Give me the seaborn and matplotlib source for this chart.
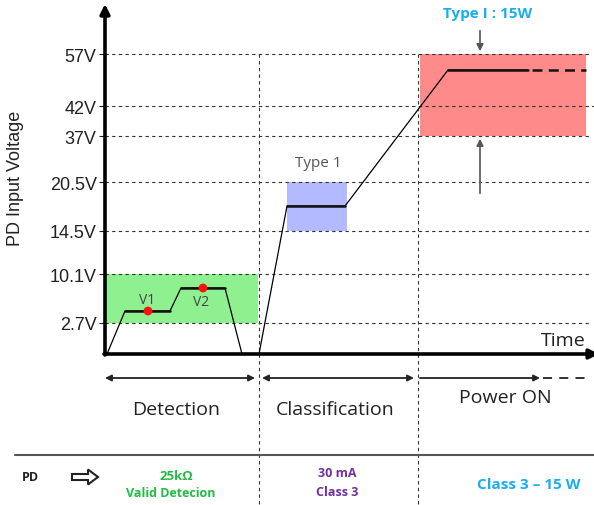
import numpy as np
import pandas as pd
import matplotlib
matplotlib.use('Agg')
import matplotlib.pyplot as plt
from matplotlib.patches import FancyArrow
import seaborn as sns

sns.set_style('white')
plt.rcParams['font.family'] = ['Liberation Sans', 'DejaVu Sans']

# schematic voltage levels (not to scale) and their labels
volt_labels = ['2.7V', '10.1V', '14.5V', '20.5V', '37V', '42V', '57V']
volt_levels = [31, 80, 123, 172, 218, 248, 300]

# PD voltage waveform over time (schematic units)
wave_t = [2, 20, 65, 76, 120, 137, 154, 182, 240, 343, 423]
wave_v = [0, 43, 43, 66, 66, 0, 0, 148, 148, 284, 284]
# the plateaus that are drawn heavier
flat_t = [[20, 65], [76, 120], [182, 240], [343, 423]]
flat_v = [[43, 43], [66, 66], [148, 148], [284, 284]]
tail_t = [427, 481]

# detection measuring points
pts = pd.DataFrame({'t': [43, 98], 'v': [43, 66], 'name': ['V1', 'V2']})

# phase boundaries in time
phase_names = ['Detection', 'Classification', 'Power ON']
phase_edges = [0, 154, 313, 485]

fig = plt.figure(figsize=(5.94, 5.06), dpi=100)
ax = fig.add_axes([105 / 594, 151 / 506, 489 / 594, 347 / 506])
ax.set_xlim(0, 489)
ax.set_ylim(0, 347)

# shaded voltage windows
ax.fill_between([0, 153], 31, 80, color='#8ef08e', lw=0, zorder=1)
ax.fill_between([182, 242], 123, 172, color='#b3baff', lw=0, zorder=1)
ax.fill_between([315, 481], 218, 300, color='#ff8a8a', lw=0, zorder=1)

# dashed level lines
for lv in volt_levels:
    xe = 489 if lv == 248 else 485
    ax.plot([0, xe], [lv, lv], color='#333333', lw=0.8, ls=(0, (3, 3)), zorder=2)

# dashed phase boundaries, running down into the table
for xb in phase_edges[1:3]:
    ax.plot([xb, xb], [300, -151], color='#333333', lw=0.8, ls=(0, (3, 3)),
            zorder=2, clip_on=False)

# waveform
sns.lineplot(x=wave_t, y=wave_v, color='black', lw=0.9, estimator=None,
             sort=False, ax=ax, zorder=4)
for ft, fv in zip(flat_t, flat_v):
    ax.plot(ft, fv, color='#111111', lw=1.8, zorder=4)
ax.plot(tail_t, [284, 284], color='#111111', lw=1.8, ls=(0, (4, 2.5)), zorder=4)

sns.scatterplot(data=pts, x='t', y='v', color='#ff1010', s=40, edgecolor='none',
                ax=ax, zorder=5)
ax.set_xlabel('')
ax.set_ylabel('')
ax.text(42, 54, 'V1', fontsize=10, color='#444444', ha='center', va='center',
        family='Open Sans')
ax.text(96, 52, 'V2', fontsize=10, color='#444444', ha='center', va='center',
        family='Open Sans')
ax.text(213, 184, 'Type 1', fontsize=11, color='#555555', ha='center', va='bottom',
        family='Open Sans')
ax.text(383, 341, 'Type I : 15W', fontsize=11, color='#19aef0', ha='center',
        va='center', family='Open Sans', weight='bold', clip_on=False)

# limit arrows for the power window
ax.annotate('', xy=(375, 300), xytext=(375, 326),
            arrowprops=dict(arrowstyle='-|>', color='#555555', lw=1.2, mutation_scale=10))
ax.annotate('', xy=(375, 218), xytext=(375, 158),
            arrowprops=dict(arrowstyle='-|>', color='#555555', lw=1.2, mutation_scale=10))

# axes drawn as arrows
for s in ax.spines.values():
    s.set_visible(False)
ax.annotate('', xy=(0, 350), xytext=(0, -1), annotation_clip=False,
            arrowprops=dict(arrowstyle='-|>', color='black', lw=2.6,
                            mutation_scale=14, shrinkA=0, shrinkB=0))
ax.annotate('', xy=(494, 0), xytext=(-1, 0), annotation_clip=False,
            arrowprops=dict(arrowstyle='-|>', color='black', lw=2.6,
                            mutation_scale=14, shrinkA=0, shrinkB=0))
ax.text(458, 5, 'Time', fontsize=14, ha='center', va='bottom', color='#222222',
        family='Open Sans')

ax.set_xticks([])
ax.set_yticks(volt_levels, volt_labels)
ax.tick_params(axis='y', length=4, width=0.8, pad=2, labelsize=13,
               colors='#222222', left=True)
fig.text(16 / 594, 1 - 178 / 506, 'PD Input Voltage', rotation=90, fontsize=13,
         ha='center', va='center', color='#222222')

# phase arrows and names
yp = -24
ax.annotate('', xy=(phase_edges[0], yp), xytext=(150, yp), annotation_clip=False,
            arrowprops=dict(arrowstyle='<|-|>', color='#222222', lw=1.3,
                            mutation_scale=9, shrinkA=0, shrinkB=0))
ax.annotate('', xy=(157, yp), xytext=(309, yp), annotation_clip=False,
            arrowprops=dict(arrowstyle='<|-|>', color='#222222', lw=1.3,
                            mutation_scale=9, shrinkA=0, shrinkB=0))
ax.annotate('', xy=(315, yp), xytext=(435, yp), annotation_clip=False,
            arrowprops=dict(arrowstyle='<|-', color='#222222', lw=1.3,
                            mutation_scale=9, shrinkA=0, shrinkB=0))
ax.plot([438, phase_edges[3]], [yp, yp], color='#222222', lw=1.3,
        ls=(0, (5, 4)), clip_on=False)
phase_x = [71, 230, 400]
phase_y = [-55, -55, -43]
for name, px, py in zip(phase_names, phase_x, phase_y):
    ax.text(px, py, name, fontsize=14, ha='center', va='center', color='#222222',
            family='Open Sans')

# bottom table
ax.plot([-90, 489], [-101, -101], color='#555555', lw=1.5, clip_on=False)
ax.text(-75, -123, 'PD', fontsize=9, weight='bold', ha='center', va='center',
        color='#222222', family='Open Sans')
ax.add_patch(FancyArrow(-33, -123, 26, 0, width=6, head_width=15, head_length=10,
                        length_includes_head=True, fc='white', ec='#222222',
                        lw=1.5, clip_on=False))
ax.text(71, -122, '25k\u03a9', fontsize=9.5, weight='bold', ha='center', va='center',
        color='#22bb44', family='Open Sans')
ax.text(66, -139, 'Valid Detecion', fontsize=9, weight='bold', ha='center',
        va='center', color='#22bb44', family='Open Sans')
ax.text(232, -119, '30 mA', fontsize=9, weight='bold', ha='center', va='center',
        color='#7030a0', family='Open Sans')
ax.text(232, -138, 'Class 3', fontsize=9, weight='bold', ha='center', va='center',
        color='#7030a0', family='Open Sans')
ax.text(424, -130, 'Class 3 \u2013 15 W', fontsize=11, weight='bold', ha='center',
        va='center', color='#19aef0', family='Open Sans')

fig.savefig('out.png', dpi=100)
